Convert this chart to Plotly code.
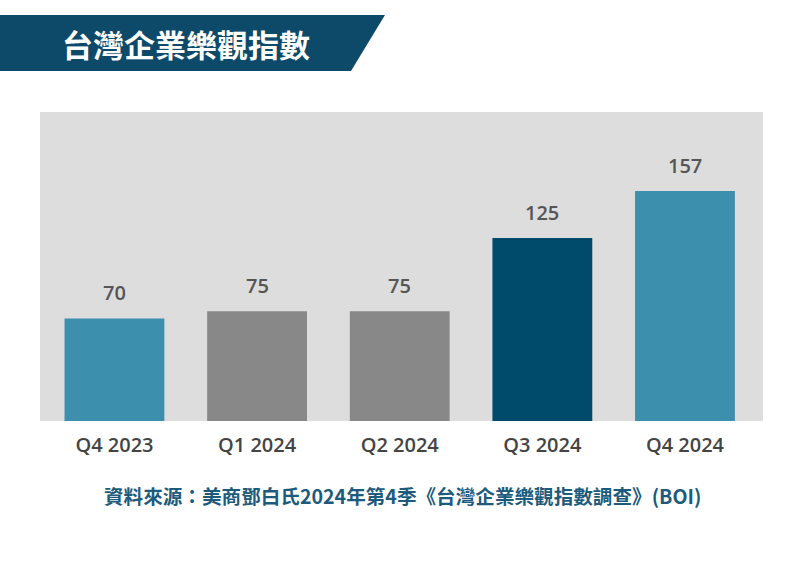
import plotly.graph_objects as go

categories = ["Q4 2023", "Q1 2024", "Q2 2024", "Q3 2024", "Q4 2024"]
values = [70, 75, 75, 125, 157]
bar_colors = ["#3d8fae", "#888888", "#888888", "#004a6b", "#3d8fae"]
title_text = "台灣企業樂觀指數"
source_text = "資料來源：美商鄧白氏2024年第4季《台灣企業樂觀指數調查》(BOI)"

W, H = 800, 570
L, R, T, B = 40, 763, 112, 421  # plot area in pixels


def px(x):
    return (x - L) / (R - L)


def py(y):
    return (B - y) / (B - T)


fig = go.Figure()
fig.add_trace(go.Bar(
    x=categories, y=values, marker=dict(color=bar_colors, line=dict(width=0)),
    width=0.7, hoverinfo="x+y",
))

for c, v in zip(categories, values):
    fig.add_annotation(x=c, y=v, text=str(v), showarrow=False, yanchor="bottom",
                       yshift=10, font=dict(family="Open Sans", size=20, color="#555555", weight=600))

# banner
path = "M {x0},{y0} L {x1},{y0} L {x2},{y1} L {x0},{y1} Z".format(
    x0=px(0), x1=px(385), x2=px(351), y0=py(15), y1=py(71))
fig.add_shape(type="path", path=path, xref="paper", yref="paper",
              fillcolor="#0d4a69", line=dict(width=0), layer="above")
fig.add_annotation(x=px(186), y=py(43), xref="paper", yref="paper", text="<b>%s</b>" % title_text,
                   showarrow=False, xanchor="center", yanchor="middle",
                   font=dict(family="Noto Sans CJK TC", size=31, color="white"))
fig.add_annotation(x=px(402), y=py(496), xref="paper", yref="paper", text="<b>%s</b>" % source_text,
                   showarrow=False, xanchor="center", yanchor="middle",
                   font=dict(family="Noto Sans CJK TC", size=19.6, color="#1d5b7d"))

fig.update_layout(
    width=W, height=H,
    margin=dict(l=L, r=W - R, t=T, b=H - B),
    paper_bgcolor="white", plot_bgcolor="#dddddd",
    showlegend=False,
    xaxis=dict(range=[-0.522, 4.547], showgrid=False, zeroline=False, showline=False,
               ticks="outside", ticklen=6, tickcolor="rgba(0,0,0,0)",
               tickfont=dict(family="Open Sans", size=20, color="#444444", weight=600)),
    yaxis=dict(range=[0, 211], showgrid=False, zeroline=False, showline=False,
               showticklabels=False, ticks=""),
)

fig.write_html("out.html", config={"displayModeBar": False},
               post_script="document.body.style.margin='0';")
